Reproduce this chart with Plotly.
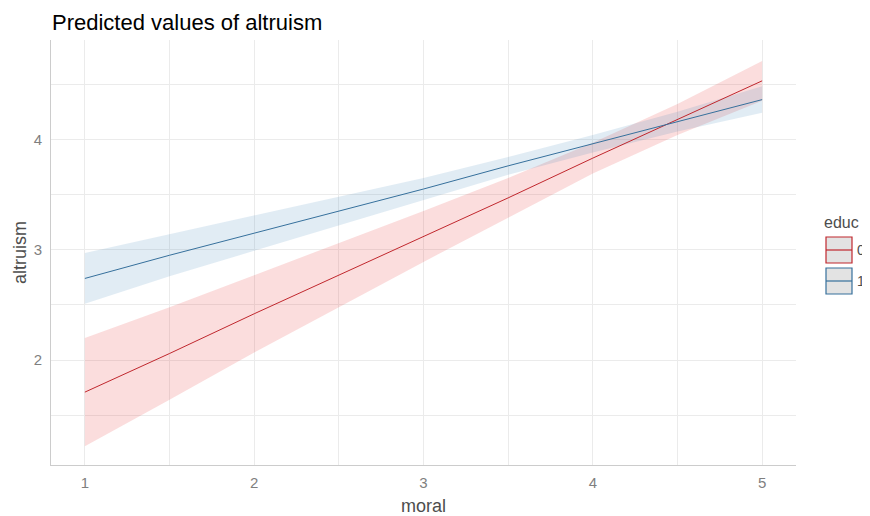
import plotly.graph_objects as go

moral = [1, 1.5, 2, 2.5, 3, 3.5, 4, 4.5, 5]

# educ = 0
fit0 = [1.71, 2.06, 2.42, 2.77, 3.12, 3.47, 3.83, 4.18, 4.53]
lo0 = [1.22, 1.64, 2.07, 2.48, 2.89, 3.29, 3.69, 4.04, 4.35]
hi0 = [2.20, 2.48, 2.77, 3.06, 3.35, 3.65, 3.97, 4.32, 4.71]

# educ = 1
fit1 = [2.74, 2.95, 3.15, 3.35, 3.55, 3.76, 3.96, 4.16, 4.36]
lo1 = [2.51, 2.76, 2.99, 3.22, 3.45, 3.68, 3.88, 4.07, 4.24]
hi1 = [2.97, 3.14, 3.31, 3.48, 3.65, 3.84, 4.04, 4.25, 4.48]

groups = ["0", "1"]
line_colors = ["#C0272D", "#36709C"]
band_colors = ["rgba(228,26,28,0.15)", "rgba(55,126,184,0.15)"]

OFF = 8  # page body margin
W, H = 870 - OFF, 516 - OFF
L, T = 51 - OFF, 40 - OFF
R, B = W - (796 - OFF), H - (465 - OFF)
pw, ph = W - L - R, H - T - B


def px2x(p):
    return (p - OFF - L) / pw


def px2y(p):
    return (H - B - (p - OFF)) / ph


fig = go.Figure()
for g, fit, lo, hi, lc, bc in zip(groups, [fit0, fit1], [lo0, lo1], [hi0, hi1], line_colors, band_colors):
    fig.add_trace(go.Scatter(x=moral, y=lo, mode="lines", line=dict(width=0), showlegend=False, hoverinfo="skip"))
    fig.add_trace(go.Scatter(x=moral, y=hi, mode="lines", line=dict(width=0), fill="tonexty",
                             fillcolor=bc, showlegend=False, hoverinfo="skip"))
for g, fit, lc in zip(groups, [fit0, fit1], line_colors):
    fig.add_trace(go.Scatter(x=moral, y=fit, mode="lines", line=dict(color=lc, width=1), showlegend=False))

# manual ggplot-style legend
narrow = "Liberation Sans Narrow, Arial Narrow, Liberation Sans, Arial, sans-serif"
shapes = []
annotations = [dict(text="educ", x=px2x(822), y=px2y(222), xref="paper", yref="paper",
                    xanchor="left", yanchor="middle", showarrow=False,
                    font=dict(size=16, color="#4D4D4D"))]
key_tops = [237, 268]
for g, lc, top in zip(groups, line_colors, key_tops):
    shapes.append(dict(type="rect", xref="paper", yref="paper",
                       x0=px2x(826), x1=px2x(852), y0=px2y(top), y1=px2y(top + 26),
                       fillcolor="#E3E3E3", line=dict(color=lc, width=1.2), layer="above"))
    shapes.append(dict(type="line", xref="paper", yref="paper",
                       x0=px2x(826), x1=px2x(852), y0=px2y(top + 13), y1=px2y(top + 13),
                       line=dict(color=lc, width=1.2), layer="above"))
    annotations.append(dict(text=g, x=px2x(855), y=px2y(top + 13), xref="paper", yref="paper",
                            xanchor="left", yanchor="middle", showarrow=False,
                            font=dict(size=14, color="#4D4D4D")))

grid = "#EBEBEB"
fig.update_layout(
    width=W, height=H,
    paper_bgcolor="white", plot_bgcolor="white",
    margin=dict(l=L, r=R, t=T, b=B, autoexpand=False),
    showlegend=False,
    font=dict(family="Liberation Sans, Arial, sans-serif", color="#4D4D4D"),
    title=dict(text="Predicted values of altruism", x=(52 - OFF) / W, xref="container", xanchor="left",
               y=1 - (22 - OFF) / H, yref="container", yanchor="middle",
               font=dict(size=22, color="black"), automargin=False),
    xaxis=dict(range=[0.8, 5.2], tickvals=[1, 2, 3, 4, 5], showgrid=True, gridcolor=grid, gridwidth=1,
               minor=dict(tickvals=[1.5, 2.5, 3.5, 4.5], showgrid=True, gridcolor=grid, gridwidth=1),
               showline=True, linecolor="#CCCCCC", linewidth=1, zeroline=False,
               ticks="", ticklabelstandoff=4, automargin=False,
               tickfont=dict(size=15, color="#7F7F7F", family=narrow),
               title=dict(text="moral", font=dict(size=18, color="#4D4D4D", family=narrow), standoff=10)),
    yaxis=dict(range=[1.05, 4.9], tickvals=[2, 3, 4], showgrid=True, gridcolor=grid, gridwidth=1,
               minor=dict(tickvals=[1.5, 2.5, 3.5, 4.5], showgrid=True, gridcolor=grid, gridwidth=1),
               showline=True, linecolor="#CCCCCC", linewidth=1, zeroline=False,
               ticks="", ticklabelstandoff=5, automargin=False,
               tickfont=dict(size=15, color="#7F7F7F", family=narrow),
               title=dict(text="altruism", font=dict(size=18, color="#4D4D4D", family=narrow), standoff=2)),
    shapes=shapes,
    annotations=annotations,
)

fig.write_html("out.html")
